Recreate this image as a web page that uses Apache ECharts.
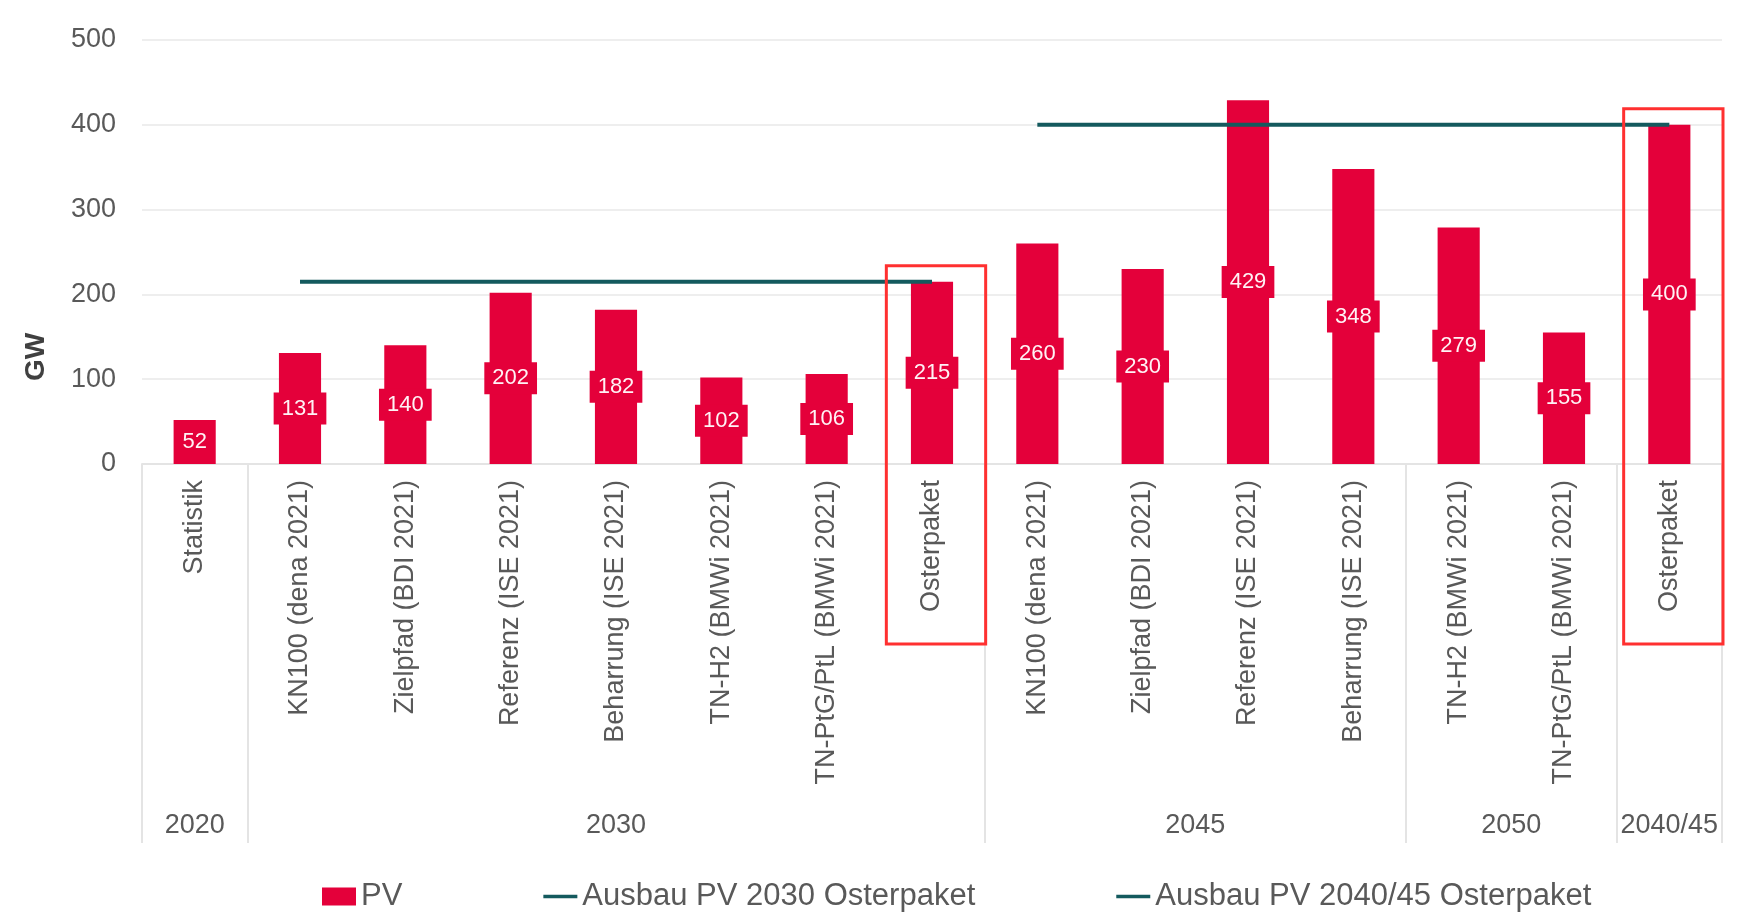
<!DOCTYPE html>
<html>
<head>
<meta charset="utf-8">
<script src="https://cdn.jsdelivr.net/npm/echarts@6/dist/echarts.min.js"></script>
<style>
html,body{margin:0;padding:0;background:#fff;}
#chart{width:1759px;height:920px;}
</style>
</head>
<body>
<div id="chart"></div>
<script>
const scenarios = [
    'Statistik',
    'KN100 (dena 2021)', 'Zielpfad (BDI 2021)', 'Referenz (ISE 2021)', 'Beharrung (ISE 2021)',
    'TN-H2 (BMWi 2021)', 'TN-PtG/PtL (BMWi 2021)', 'Osterpaket',
    'KN100 (dena 2021)', 'Zielpfad (BDI 2021)', 'Referenz (ISE 2021)', 'Beharrung (ISE 2021)',
    'TN-H2 (BMWi 2021)', 'TN-PtG/PtL (BMWi 2021)', 'Osterpaket'
];
const groupNames = ['2020', '2030', '2045', '2050', '2040/45'];
const groupSizes = [1, 7, 4, 2, 1];
const pvValues = [52, 131, 140, 202, 182, 102, 106, 215, 260, 230, 429, 348, 279, 155, 400];
const target2030 = [null, 215, 215, 215, 215, 215, 215, 215, null, null, null, null, null, null, null];
const target2045 = [null, null, null, null, null, null, null, null, 400, 400, 400, 400, 400, 400, 400];
const highlighted = [7, 14];

// group borders / centres on a 0..n scale for the lower axis
const bounds = [0];
groupSizes.forEach(s => bounds.push(bounds[bounds.length - 1] + s));
const centres = groupNames.map((g, i) => (bounds[i] + bounds[i + 1]) / 2);

const red = '#E4003A';
const teal = '#145A5E';
const grey = '#595959';
const font = 'Liberation Sans, Arial, sans-serif';
const lineIcon = 'path://M0 0h39v4h-39z';

const chart = echarts.init(document.getElementById('chart'));
const option = {
    animation: false,
    backgroundColor: '#fff',
    textStyle: {fontFamily: font},
    grid: {left: 142, right: 37, top: 40, bottom: 456},
    legend: {
        left: 317, top: 876,
        itemWidth: 34, itemHeight: 18, itemGap: 141,
        textStyle: {fontSize: 31, color: grey, fontFamily: font},
        data: [
            {name: 'PV', icon: 'rect'},
            {name: 'Ausbau PV 2030 Osterpaket', icon: lineIcon},
            {name: 'Ausbau PV 2040/45 Osterpaket', icon: lineIcon}
        ]
    },
    xAxis: [
        {
            type: 'category',
            data: scenarios,
            axisLine: {lineStyle: {color: '#e4e4e4', width: 2}},
            axisTick: {show: false},
            axisLabel: {interval: 0, rotate: 90, fontSize: 27, color: grey, margin: 16, fontFamily: font}
        },
        {
            type: 'value',
            position: 'bottom',
            min: 0, max: bounds[bounds.length - 1],
            axisLine: {show: false},
            splitLine: {show: false},
            axisTick: {show: true, customValues: bounds, length: 379, lineStyle: {color: '#e4e4e4', width: 2}},
            axisLabel: {
                customValues: centres,
                margin: 348, fontSize: 27, color: grey, fontFamily: font,
                formatter: v => groupNames[centres.indexOf(v)] || ''
            }
        }
    ],
    yAxis: {
        type: 'value',
        min: 0, max: 500, interval: 100,
        axisLine: {show: false},
        axisTick: {show: false},
        axisLabel: {fontSize: 27, color: grey, margin: 26, fontFamily: font},
        splitLine: {lineStyle: {color: '#eeeeee', width: 2}}
    },
    graphic: [{
        id: 'gw', type: 'text', x: 36, y: 357, rotation: Math.PI / 2,
        style: {text: 'GW', fontSize: 28, fontWeight: 'bold', fill: '#404040', align: 'center', verticalAlign: 'middle', fontFamily: font}
    }],
    series: [
        {
            name: 'PV', type: 'bar', barWidth: '40%',
            data: pvValues,
            itemStyle: {color: red},
            label: {
                show: true, position: 'inside', color: '#fff2f5', fontSize: 22,
                backgroundColor: red, padding: [5, 8], fontFamily: font
            }
        },
        {
            name: 'Ausbau PV 2030 Osterpaket', type: 'line',
            data: target2030, symbol: 'none',
            lineStyle: {color: teal, width: 4}, itemStyle: {color: teal}
        },
        {
            name: 'Ausbau PV 2040/45 Osterpaket', type: 'line',
            data: target2045, symbol: 'none',
            lineStyle: {color: teal, width: 4}, itemStyle: {color: teal}
        }
    ]
};
chart.setOption(option);

// red frames around the Osterpaket bars
const boxes = highlighted.map((i, k) => {
    const left = chart.convertToPixel({xAxisIndex: 1}, i);
    const right = chart.convertToPixel({xAxisIndex: 1}, i + 1);
    const top = chart.convertToPixel({xAxisIndex: 0, yAxisIndex: 0}, [i, pvValues[i]])[1];
    const base = chart.convertToPixel({xAxisIndex: 0, yAxisIndex: 0}, [i, 0])[1];
    return {
        id: 'box' + k, type: 'rect', z: 100,
        shape: {x: left + 7, y: top - 16, width: right - left - 6, height: base + 180 - (top - 16)},
        style: {fill: 'none', stroke: '#FF3030', lineWidth: 3}
    };
});
chart.setOption({graphic: boxes});
</script>
</body>
</html>
